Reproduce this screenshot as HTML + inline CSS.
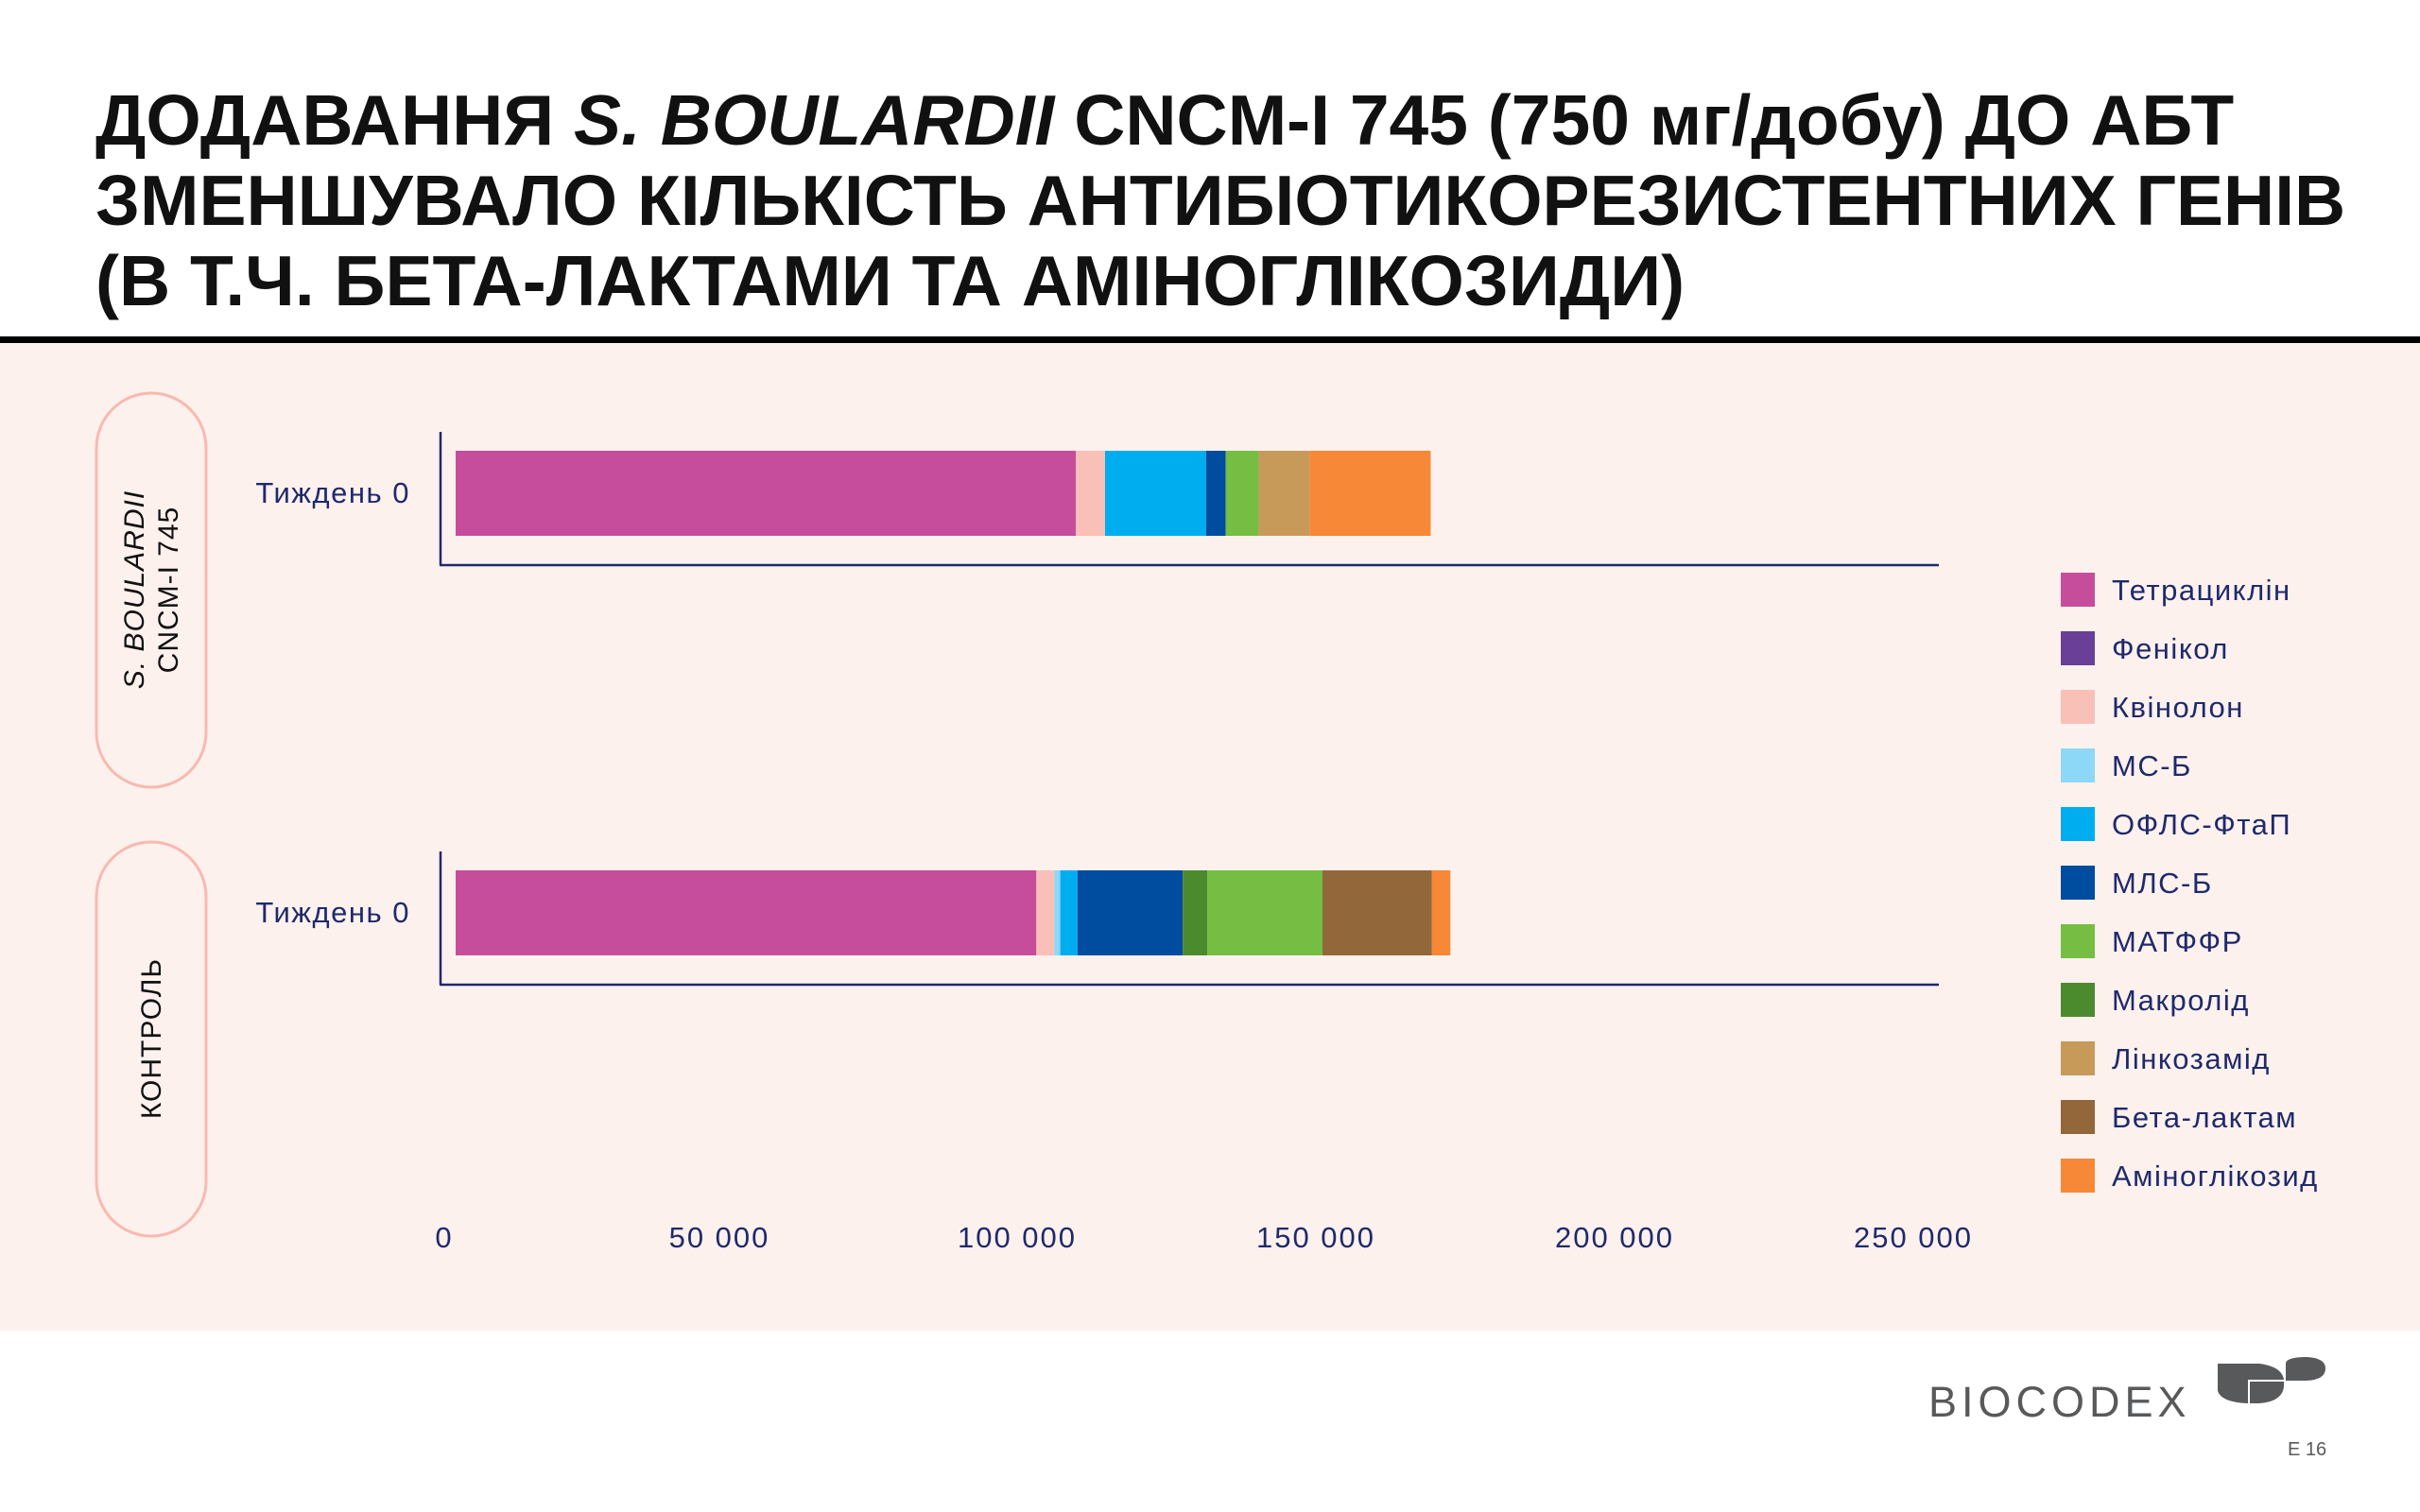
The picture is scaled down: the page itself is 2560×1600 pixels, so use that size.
<!DOCTYPE html>
<html><head><meta charset="utf-8"><style>
html,body{margin:0;padding:0;width:2560px;height:1600px;overflow:hidden;background:#fff;font-family:"Liberation Sans",sans-serif}
</style></head><body>
<svg id="chart" width="2560" height="1600" viewBox="0 0 2560 1600" xmlns="http://www.w3.org/2000/svg" font-family="Liberation Sans, sans-serif">
<rect x="0" y="0" width="2560" height="1600" fill="#ffffff"/>
<g font-weight="bold" font-size="75" fill="#111">
<text x="101" y="153">ДОДАВАННЯ <tspan font-style="italic">S. BOULARDII</tspan> CNCM-I 745 (750 мг/добу) ДО АБТ</text>
<text x="101" y="238">ЗМЕНШУВАЛО КІЛЬКІСТЬ АНТИБІОТИКОРЕЗИСТЕНТНИХ ГЕНІВ</text>
<text x="101" y="323">(В Т.Ч. БЕТА-ЛАКТАМИ ТА АМІНОГЛІКОЗИДИ)</text>
</g>
<rect x="0" y="356" width="2560" height="7" fill="#000"/>
<rect x="0" y="363" width="2560" height="1045" fill="#fdf1ee"/>
<rect x="102" y="416" width="116" height="417" rx="58" fill="none" stroke="#f9b9ae" stroke-width="3"/>
<rect x="102" y="891" width="116" height="417" rx="58" fill="none" stroke="#f9b9ae" stroke-width="3"/>
<text transform="translate(160,624) rotate(-90)" text-anchor="middle" font-size="30" fill="#111" letter-spacing="1"><tspan x="0" y="-8" font-style="italic">S. BOULARDII</tspan><tspan x="0" y="28">CNCM-I 745</tspan></text>
<text transform="translate(170,1099) rotate(-90)" text-anchor="middle" font-size="30" fill="#111" letter-spacing="1">КОНТРОЛЬ</text>
<g id="plot"></g>
<g id="legend"></g>
<g fill="#58595b">
<text x="2040" y="1499" font-size="45" letter-spacing="5">BIOCODEX</text>
<path d="M2346 1443 L2390 1443 Q2414 1446 2416 1460 L2378 1460 L2378 1485 Q2350 1484 2346 1472 Z"/>
<path d="M2380 1462 L2416 1462 Q2418 1483 2390 1485 L2380 1485 Z"/>
<path d="M2418 1442 Q2420 1436 2440 1436 Q2460 1437 2460 1448 Q2460 1460 2440 1461 L2418 1461 Z"/>
<text x="2420" y="1540" font-size="20">E 16</text>
</g>
</svg>
<script>
const categories = ["Тиждень 0", "Тиждень 0"];
const series = ["Тетрациклін","Фенікол","Квінолон","МС-Б","ОФЛС-ФтаП","МЛС-Б","МАТФФР","Макролід","Лінкозамід","Бета-лактам","Аміноглікозид"];
const colors = ["#c64d9b","#6a3f98","#f9c0b8","#8dd8f6","#00aeef","#004c9f","#76bd43","#4c8a2e","#c79a5a","#92673a","#f68837"];
const stackOrder = [0,1,2,3,4,5,7,6,8,9,10];
const sbValues = [103800,0,4900,0,16900,3300,5500,0,8500,0,20300];
const controlValues = [97200,0,3000,1000,2900,17600,19300,4100,0,18300,3100];
const xTicks = [0,50000,100000,150000,200000,250000];
const xTickLabels = ["0","50 000","100 000","150 000","200 000","250 000"];
const tickLabelPos = [470,761,1076,1392,1708,2024];

const NS = "http://www.w3.org/2000/svg";
const x0 = 482, pxPer = 316/50000;
function xScale(v){ return x0 + v*pxPer; }
const plot = document.getElementById('plot');
function mk(tag, attrs, parent){ const e=document.createElementNS(NS,tag); for(const k in attrs) e.setAttribute(k,attrs[k]); parent.appendChild(e); return e; }

const groups = [{vals: sbValues, top: 457, barY: 477},{vals: controlValues, top: 901, barY: 921}];
groups.forEach((g,gi)=>{
  const axY = g.top + 141;
  const va = mk('line',{x1:466,y1:g.top,x2:466,y2:axY,stroke:'#1f2a6b','stroke-width':2.5},plot);
  
  
  const ha = mk('line',{x1:465,y1:axY,x2:2051,y2:axY,stroke:'#1f2a6b','stroke-width':2.5},plot);
  
  
  const lab = mk('text',{x:434,y:g.barY+55,'text-anchor':'end','font-size':31,'letter-spacing':1.5,fill:'#1f2a6b'},plot);
  lab.textContent = categories[gi];
  
  
  let acc = 0;
  stackOrder.forEach(i=>{
    const v = g.vals[i];
    if(v<=0) return;
    const r = mk('rect',{x:xScale(acc),y:g.barY,width:xScale(acc+v)-xScale(acc),height:90,fill:colors[i]},plot);
    
    
    acc += v;
  });
});
xTicks.forEach((t,i)=>{
  const tx = mk('text',{x:tickLabelPos[i],y:1320,'text-anchor':'middle','font-size':31,'letter-spacing':2,fill:'#1f2a6b'},plot);
  tx.textContent = xTickLabels[i];
  
  
});
const legend = document.getElementById('legend');
series.forEach((s,i)=>{
  const y = 606 + i*62;
  const sw = mk('rect',{x:2180,y:y,width:36,height:36,fill:colors[i]},legend);
  
  
  const t = mk('text',{x:2234,y:y+29,'font-size':31,'letter-spacing':1.5,fill:'#1f2a6b'},legend);
  t.textContent = s;
  
  
});
</script>
</body></html>
